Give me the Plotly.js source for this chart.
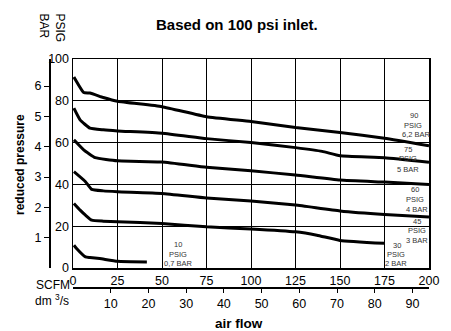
<!DOCTYPE html>
<html><head><meta charset="utf-8">
<script src="https://cdn.plot.ly/plotly-3.0.1.min.js"></script>
<style>html,body{margin:0;padding:0;background:#fff}#chart{width:451px;height:331px}</style>
</head><body><div id="chart"></div>
<script>
// SCFM flow values and reduced pressure (PSIG)
const scfm90 = [0.5, 6, 9.5, 17, 25, 50, 75, 100, 125, 150, 175, 200];
const psig90 = [91.4, 84, 83.7, 81.6, 79.8, 77.2, 72.4, 70.1, 67.2, 64.8, 62.1, 58.5];
const scfm75 = [0.5, 4, 9.5, 17, 25, 50, 75, 100, 125, 140, 150, 175, 200];
const psig75 = [76.5, 70.9, 66.9, 66.1, 65.6, 64.5, 61.9, 60, 57.6, 55.8, 53.7, 52.8, 50.6];
const scfm60 = [0.5, 6, 12.5, 25, 50, 75, 100, 125, 150, 175, 200];
const psig60 = [61.3, 56.5, 52.8, 51.3, 50.7, 48.2, 46.5, 44.5, 42.1, 41.1, 40];
const scfm45 = [0.5, 7, 10.5, 17, 25, 50, 75, 100, 125, 150, 175, 200];
const psig45 = [46.1, 41.3, 37.6, 36.9, 36.5, 35.7, 33.5, 32.1, 30.1, 27.3, 25.6, 24.4];
const scfm30 = [0.5, 4, 7, 10.5, 17, 25, 50, 75, 100, 125, 137, 150, 175];
const psig30 = [30.9, 27.7, 25.3, 22.9, 22.4, 22.1, 21.3, 19.7, 18.7, 17.3, 15.7, 13.2, 11.8];
const scfm10 = [0.5, 2, 7, 9.5, 15, 25, 41.5];
const psig10 = [10.9, 9.3, 5.3, 5, 4.5, 3.2, 2.9];

// axis ticks
const scfmTicks = [0, 25, 50, 75, 100, 125, 150, 175, 200];
const psigTicks = [0, 20, 40, 60, 80, 100];
const barTicks = [1, 2, 3, 4, 5, 6];
const dm3sTicks = [10, 20, 30, 40, 50, 60, 70, 80, 90];

// curve labels
const curveLabels = [
  ["90", "PSIG", "6,2 BAR"],
  ["75", "PSIG", "5 BAR"],
  ["60", "PSIG", "4 BAR"],
  ["45", "PSIG", "3 BAR"],
  ["30", "PSIG", "2 BAR"],
  ["10", "PSIG", "0,7 BAR"]
];

const PSI_PER_BAR = 14.5038;
const SCFM_PER_DM3S = 2.11888;

const series = [[scfm90, psig90], [scfm75, psig75], [scfm60, psig60], [scfm45, psig45], [scfm30, psig30], [scfm10, psig10]];
const traces = series.map(([x, y]) => ({
  x: x, y: y, type: 'scatter', mode: 'lines', xaxis: 'x', yaxis: 'y',
  line: {color: '#000', width: 3, shape: 'spline', smoothing: 0.4},
  hoverinfo: 'skip', showlegend: false
}));
// helper traces so secondary axes get drawn
traces.push({x: [null], y: [null], xaxis: 'x2', yaxis: 'y', type: 'scatter', mode: 'markers', showlegend: false, hoverinfo: 'skip'});
traces.push({x: [null], y: [null], xaxis: 'x', yaxis: 'y2', type: 'scatter', mode: 'markers', showlegend: false, hoverinfo: 'skip'});

// layout geometry (pixels)
const W = 451, H = 331;
const M = {l: 49, r: 22, t: 59, b: 44};
const pw = W - M.l - M.r, ph = H - M.t - M.b;
const px = v => (v - M.l) / pw;
const py = v => (H - M.b - v) / ph;

const FONT = 'Liberation Sans, Arial, Helvetica, sans-serif';
const small = {family: 'Liberation Sans Narrow, Liberation Sans, Arial, sans-serif', size: 7.5, color: '#333'};

// label positions in data coordinates [x, y] for each line
const labelPos = [
  [[191.5, 72.8], [190.9, 68.1], [193.2, 63.7]],
  [[188.1, 56.5], [188.1, 52.5], [188.1, 46.9]],
  [[192.4, 37.4], [192.4, 32.8], [193.2, 28.0]],
  [[193.2, 22.1], [193.2, 18.1], [193.2, 13.3]],
  [[182.1, 10.9], [181.2, 6.4], [181.2, 2.1]],
  [[59.2, 11.2], [59.2, 6.6], [59.2, 2.1]]
];
const annotations = [];
curveLabels.forEach((lines, i) => {
  lines.forEach((t, j) => {
    annotations.push({x: labelPos[i][j][0], y: labelPos[i][j][1], xref: 'x', yref: 'y', text: t,
      showarrow: false, font: small, xanchor: 'center', yanchor: 'middle'});
  });
});
annotations.push(
  {x: px(236.7), y: py(24), xref: 'paper', yref: 'paper', text: '<b>Based on 100 psi inlet.</b>', showarrow: false,
   font: {family: FONT, size: 15, color: '#000'}, xanchor: 'center', yanchor: 'middle'},
  {x: px(20), y: py(165), xref: 'paper', yref: 'paper', text: '<b>reduced pressure</b>', showarrow: false, textangle: -90,
   font: {family: FONT, size: 12, color: '#000'}, xanchor: 'center', yanchor: 'middle'},
  {x: px(239), y: py(323), xref: 'paper', yref: 'paper', text: '<b>air flow</b>', showarrow: false,
   font: {family: FONT, size: 13.5, color: '#000'}, xanchor: 'center', yanchor: 'middle'},
  {x: px(60), y: py(27.5), xref: 'paper', yref: 'paper', text: 'PSIG', showarrow: false, textangle: 90,
   font: {family: FONT, size: 12, color: '#000'}, xanchor: 'center', yanchor: 'middle'},
  {x: px(44), y: py(25.5), xref: 'paper', yref: 'paper', text: 'BAR', showarrow: false, textangle: 90,
   font: {family: FONT, size: 12, color: '#000'}, xanchor: 'center', yanchor: 'middle'},
  {x: px(53), y: py(285), xref: 'paper', yref: 'paper', text: 'SCFM', showarrow: false,
   font: {family: FONT, size: 12, color: '#000'}, xanchor: 'center', yanchor: 'middle'},
  {x: px(52), y: py(300), xref: 'paper', yref: 'paper', text: 'dm <sup>3</sup>/s', showarrow: false,
   font: {family: FONT, size: 12, color: '#000'}, xanchor: 'center', yanchor: 'middle'}
);

const xdomStart = px(73);
const ydomStart = py(268);

const layout = {
  width: W, height: H, margin: M, paper_bgcolor: '#fff', plot_bgcolor: '#fff',
  font: {family: FONT, size: 12, color: '#000'},
  showlegend: false,
  xaxis: {domain: [xdomStart, 1], range: [0, 200], tickvals: scfmTicks, ticks: '', showgrid: true,
    gridcolor: '#000', gridwidth: 1, showline: true, linecolor: '#000', linewidth: 1.5, mirror: true,
    zeroline: false, tickfont: {size: 12.5}, anchor: 'y', fixedrange: true},
  yaxis: {domain: [ydomStart, 1], range: [0, 100], tickvals: psigTicks, ticks: '', showgrid: true,
    gridcolor: '#000', gridwidth: 1, showline: true, linecolor: '#000', linewidth: 1.5, mirror: true,
    zeroline: false, tickfont: {size: 12.5}, anchor: 'x', fixedrange: true},
  xaxis2: {overlaying: 'x', anchor: 'free', position: 0, side: 'bottom',
    range: [0, 200 / SCFM_PER_DM3S], tickvals: dm3sTicks, ticks: 'outside', ticklen: 4, tickwidth: 1,
    tickcolor: '#000', showgrid: false, showline: true, linecolor: '#000', linewidth: 1.5, zeroline: false,
    tickfont: {size: 12.5}, fixedrange: true},
  yaxis2: {overlaying: 'y', anchor: 'free', position: 0, side: 'left',
    range: [0, 100 / PSI_PER_BAR], tickvals: barTicks, ticks: 'outside', ticklen: 5, tickwidth: 1,
    tickcolor: '#000', showgrid: false, showline: true, linecolor: '#000', linewidth: 1.5, zeroline: false,
    tickfont: {size: 12.5}, fixedrange: true},
  annotations: annotations
};

Plotly.newPlot('chart', traces, layout, {staticPlot: true, displayModeBar: false});
</script></body></html>
